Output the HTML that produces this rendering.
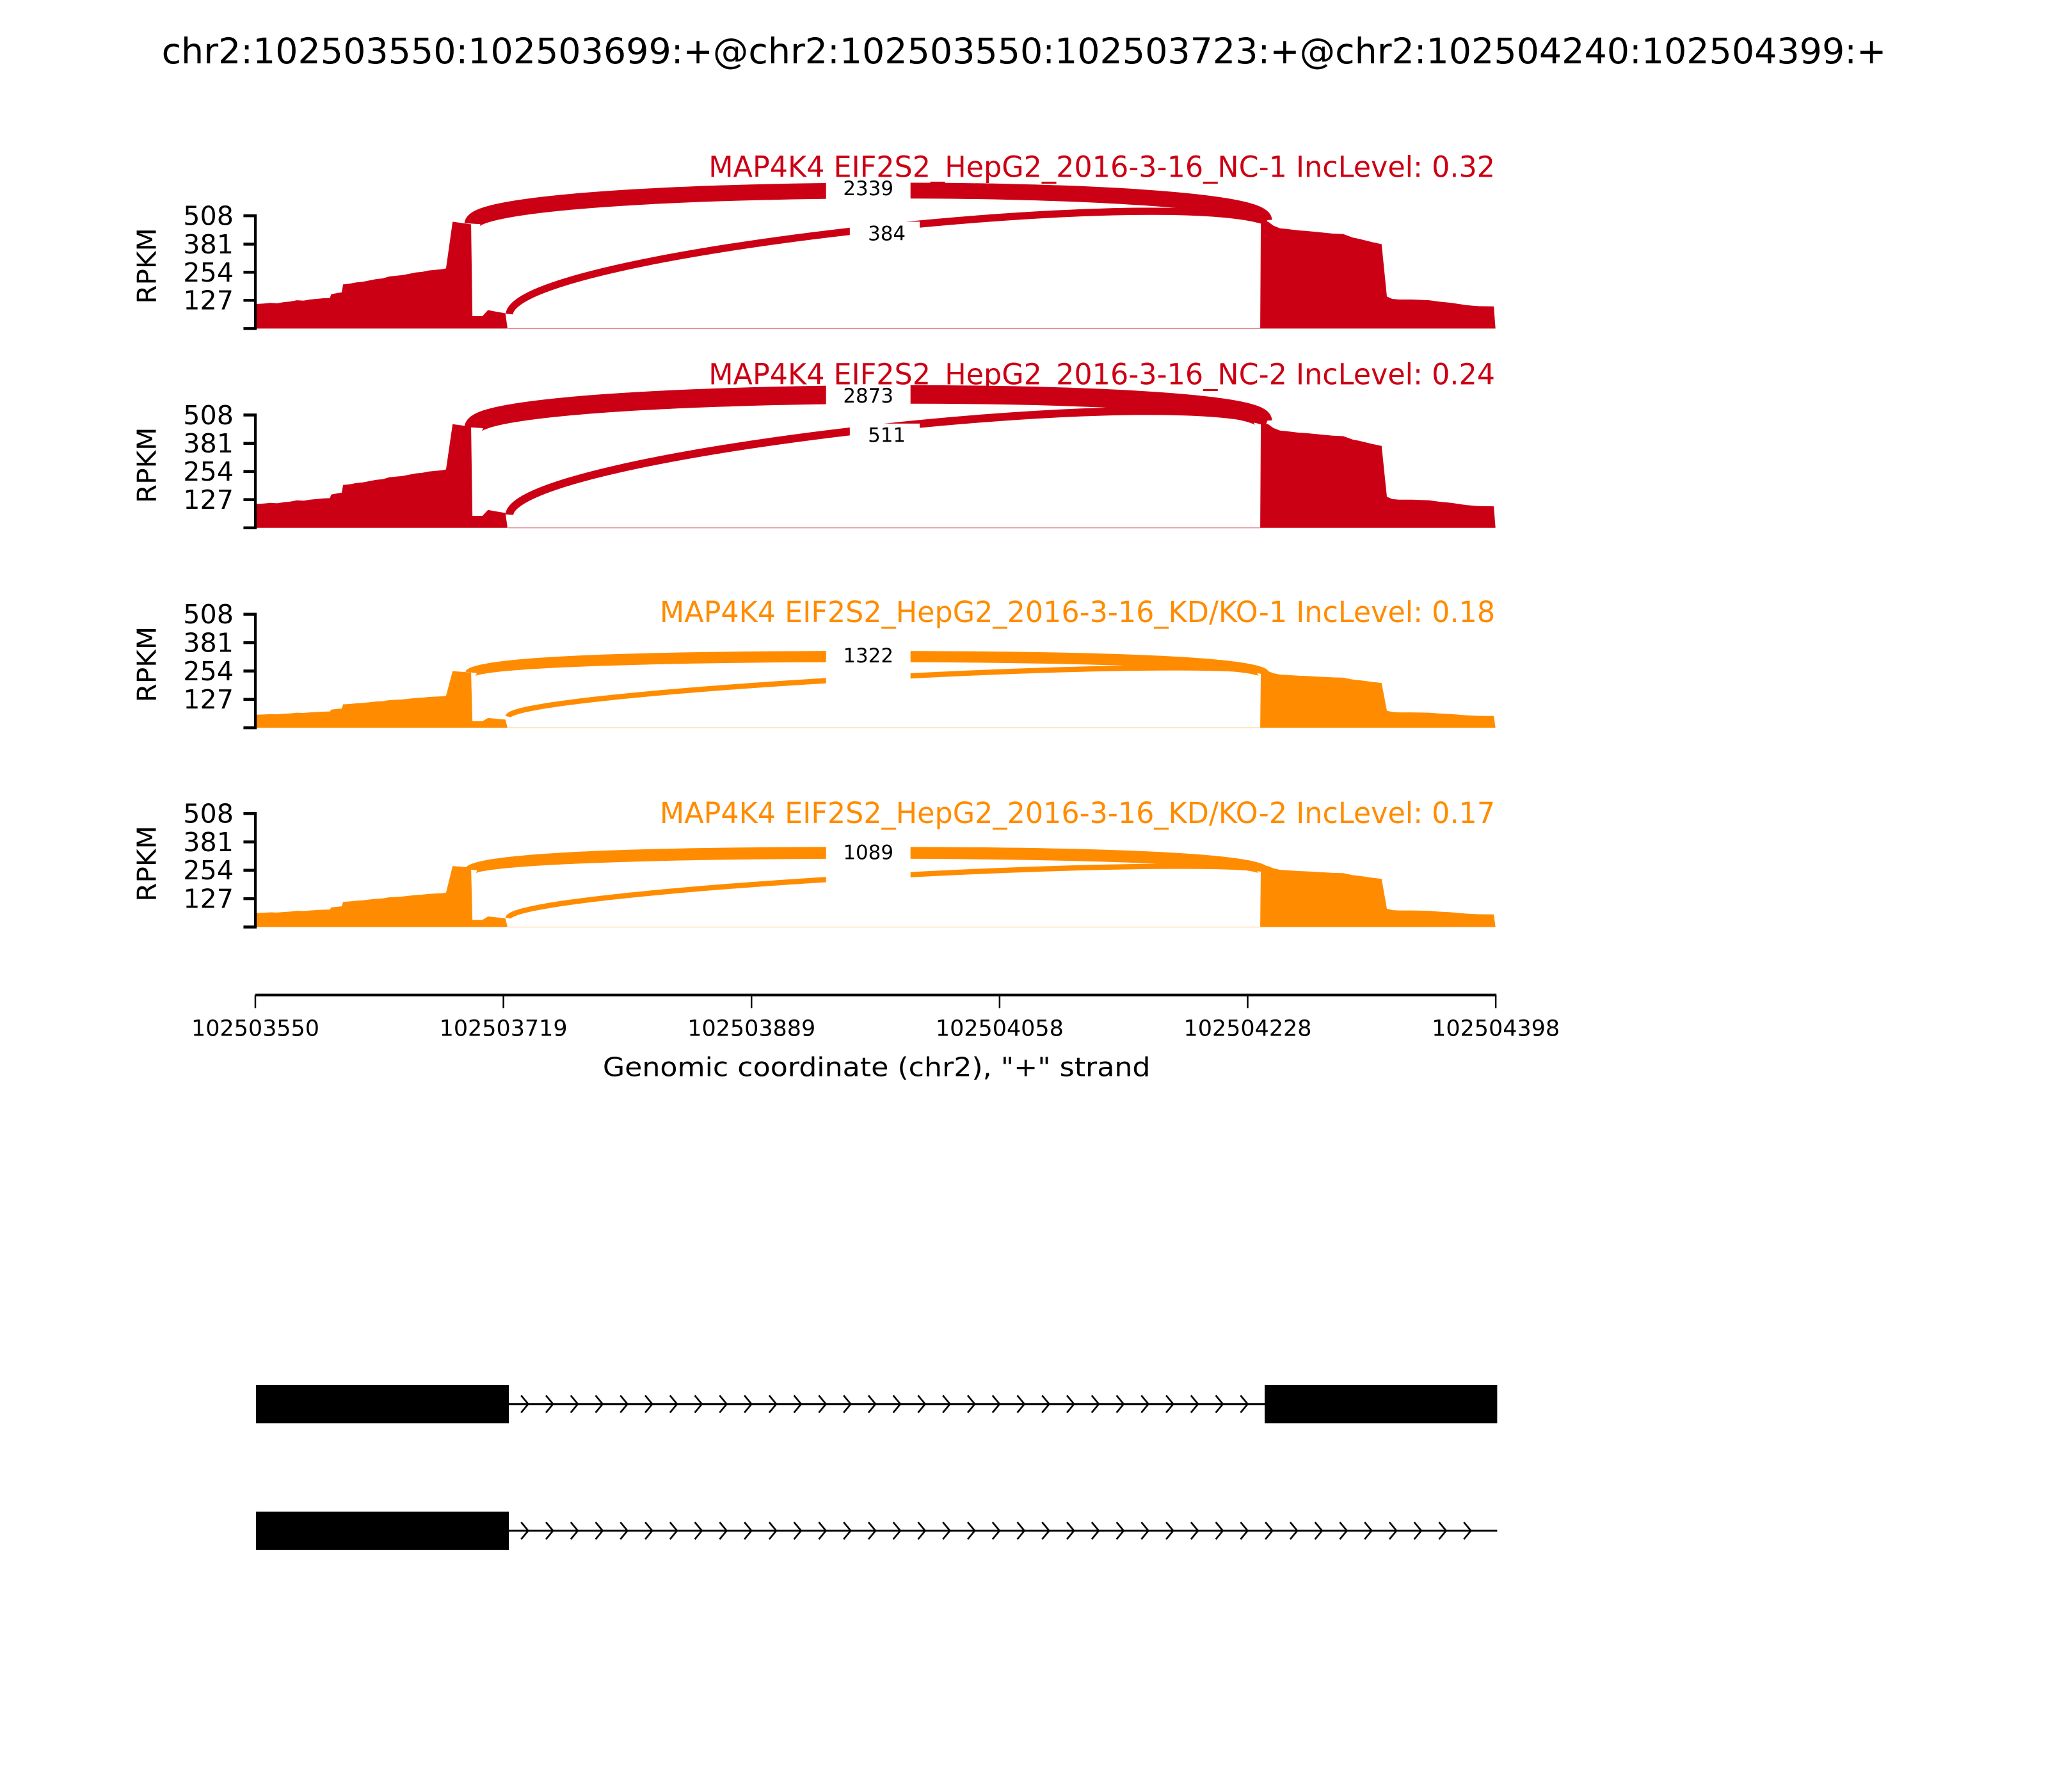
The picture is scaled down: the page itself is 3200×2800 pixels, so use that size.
<!DOCTYPE html>
<html><head><meta charset="utf-8"><style>html,body{margin:0;padding:0;background:#fff}svg{display:block}</style></head>
<body>
<svg xmlns="http://www.w3.org/2000/svg" width="3200" height="2800" viewBox="0 0 1552 1358" preserveAspectRatio="none" font-family="DejaVu Sans, Liberation Sans, sans-serif">
<defs>
<path id="cov" d="M194,0 L194,-18.6 L200,-19 L205,-19.5 L210,-19.2 L215,-20 L220,-20.5 L225,-21.5 L230,-21.2 L235,-22 L240,-22.5 L245,-23 L250,-23.2 L251,-26 L256,-27 L259,-27.5 L260,-33.5 L265,-34 L270,-35 L275,-35.5 L280,-36.5 L285,-37.5 L290,-38 L295,-39.5 L300,-40 L305,-40.5 L310,-41.5 L315,-42.5 L320,-43 L325,-44 L330,-44.5 L335,-45 L338,-45.6 L343,-81 L350,-80 L357,-79 L358,-9.4 L365.6,-9.4 L369.8,-14 L375,-13 L383,-11.6 L384.6,0 L955,0 L955.5,-82 L961,-81 L965,-78 L970,-76 L975,-75.5 L984,-74.4 L990,-74 L1000,-73 L1010,-72 L1018,-71.6 L1025,-69 L1030,-68 L1040,-65.5 L1047,-64 L1051,-24.3 L1055,-22.5 L1060,-22 L1070,-22 L1083,-21.5 L1090,-20.5 L1100,-19.5 L1111,-17.8 L1120,-17 L1132,-16.8 L1133.3,0 Z"/>
<pattern id="chev" patternUnits="userSpaceOnUse" x="386.9" y="0" width="18.8" height="1358">
<path d="M8,1057.5 L13.4,1064 L8,1070.5 M8,1153.5 L13.4,1160 L8,1166.5" fill="none" stroke="#000" stroke-width="1.3"/>
</pattern>
</defs>

<text x="776" y="48" font-size="27" text-anchor="middle" textLength="1307" lengthAdjust="spacingAndGlyphs">chr2:102503550:102503699:+@chr2:102503550:102503723:+@chr2:102504240:102504399:+</text>

<!-- Panel 1 -->
<g>
<line x1="385" y1="249" x2="955" y2="249" stroke="#cc0014" stroke-width="0.6" opacity="0.5"/>
<use href="#cov" transform="translate(0,249) scale(1,1)" fill="#cc0014"/>
<path d="M358,169.5 C360,138 956,135 958,167" fill="none" stroke="#cc0014" stroke-width="12"/>
<path d="M386,238 C390,192 880,140 960,168" fill="none" stroke="#cc0014" stroke-width="5.5"/>
<rect x="626" y="135" width="64" height="18" fill="#fff"/>
<text x="658" y="148" font-size="15" text-anchor="middle">2339</text>
<rect x="644" y="168" width="53" height="17" fill="#fff"/>
<text x="672" y="182" font-size="15" text-anchor="middle">384</text>
<text x="1133" y="134" font-size="22" fill="#cc0014" text-anchor="end" textLength="596" lengthAdjust="spacingAndGlyphs">MAP4K4 EIF2S2_HepG2_2016-3-16_NC-1 IncLevel: 0.32</text>
<path d="M193.5,163.5 V249" stroke="#000" stroke-width="2"/>
<path d="M184.5,163.5 H194.5 M184.5,185 H194.5 M184.5,206.3 H194.5 M184.5,227.6 H194.5 M184.5,249 H194.5" stroke="#000" stroke-width="2.2"/>
<g font-size="20" text-anchor="end"><text x="177" y="170.5">508</text><text x="177" y="192">381</text><text x="177" y="213.3">254</text><text x="177" y="234.6">127</text></g>
<text transform="translate(118,201.5) rotate(-90)" font-size="20" text-anchor="middle" textLength="57.5" lengthAdjust="spacingAndGlyphs">RPKM</text>
</g>

<!-- Panel 2 -->
<g>
<line x1="385" y1="400" x2="955" y2="400" stroke="#cc0014" stroke-width="0.6" opacity="0.5"/>
<use href="#cov" transform="translate(0,400) scale(1,0.97)" fill="#cc0014"/>
<path d="M359,324 C361,293 955,290 957,319" fill="none" stroke="#cc0014" stroke-width="14"/>
<path d="M386,390 C390,345 880,290 960,320" fill="none" stroke="#cc0014" stroke-width="6"/>
<rect x="626" y="291" width="64" height="19" fill="#fff"/>
<text x="658" y="305" font-size="15" text-anchor="middle">2873</text>
<rect x="644" y="321" width="53" height="17" fill="#fff"/>
<text x="672" y="335" font-size="15" text-anchor="middle">511</text>
<text x="1133" y="291.2" font-size="22" fill="#cc0014" text-anchor="end" textLength="596" lengthAdjust="spacingAndGlyphs">MAP4K4 EIF2S2_HepG2_2016-3-16_NC-2 IncLevel: 0.24</text>
<path d="M193.5,314.5 V400" stroke="#000" stroke-width="2"/>
<path d="M184.5,314.5 H194.5 M184.5,336 H194.5 M184.5,357.3 H194.5 M184.5,378.6 H194.5 M184.5,400 H194.5" stroke="#000" stroke-width="2.2"/>
<g font-size="20" text-anchor="end"><text x="177" y="321.5">508</text><text x="177" y="343">381</text><text x="177" y="364.3">254</text><text x="177" y="385.6">127</text></g>
<text transform="translate(118,352.5) rotate(-90)" font-size="20" text-anchor="middle" textLength="57.5" lengthAdjust="spacingAndGlyphs">RPKM</text>
</g>

<!-- Panel 3 -->
<g>
<line x1="385" y1="551.5" x2="955" y2="551.5" stroke="#ff8c00" stroke-width="0.6" opacity="0.4"/>
<use href="#cov" transform="translate(0,551.5) scale(1,0.53)" fill="#ff8c00"/>
<path d="M357,509.6 C359,493.5 955,493.5 957,509.6" fill="none" stroke="#ff8c00" stroke-width="8.5"/>
<path d="M385,543 C389,525 880,497 959,509" fill="none" stroke="#ff8c00" stroke-width="4"/>
<rect x="626" y="489" width="64" height="32" fill="#fff"/>
<text x="658" y="502" font-size="15" text-anchor="middle">1322</text>
<text x="1133" y="471.5" font-size="22" fill="#ff8c00" text-anchor="end" textLength="633" lengthAdjust="spacingAndGlyphs">MAP4K4 EIF2S2_HepG2_2016-3-16_KD/KO-1 IncLevel: 0.18</text>
<path d="M193.5,465.5 V551.5" stroke="#000" stroke-width="2"/>
<path d="M184.5,465.5 H194.5 M184.5,487 H194.5 M184.5,508.5 H194.5 M184.5,530 H194.5 M184.5,551.5 H194.5" stroke="#000" stroke-width="2.2"/>
<g font-size="20" text-anchor="end"><text x="177" y="472.5">508</text><text x="177" y="494">381</text><text x="177" y="515.5">254</text><text x="177" y="537">127</text></g>
<text transform="translate(118,503.5) rotate(-90)" font-size="20" text-anchor="middle" textLength="57.5" lengthAdjust="spacingAndGlyphs">RPKM</text>
</g>

<!-- Panel 4 -->
<g>
<line x1="385" y1="702.5" x2="955" y2="702.5" stroke="#ff8c00" stroke-width="0.6" opacity="0.4"/>
<use href="#cov" transform="translate(0,702.5) scale(1,0.57)" fill="#ff8c00"/>
<path d="M357,659 C359,642 955,642 957,659" fill="none" stroke="#ff8c00" stroke-width="9"/>
<path d="M385,695.7 C389,675 880,648 959,659" fill="none" stroke="#ff8c00" stroke-width="4"/>
<rect x="626" y="637" width="64" height="32" fill="#fff"/>
<text x="658" y="651" font-size="15" text-anchor="middle">1089</text>
<text x="1133" y="623.6" font-size="22" fill="#ff8c00" text-anchor="end" textLength="633" lengthAdjust="spacingAndGlyphs">MAP4K4 EIF2S2_HepG2_2016-3-16_KD/KO-2 IncLevel: 0.17</text>
<path d="M193.5,616.5 V702.5" stroke="#000" stroke-width="2"/>
<path d="M184.5,616.5 H194.5 M184.5,638 H194.5 M184.5,659.5 H194.5 M184.5,681 H194.5 M184.5,702.5 H194.5" stroke="#000" stroke-width="2.2"/>
<g font-size="20" text-anchor="end"><text x="177" y="623.5">508</text><text x="177" y="645">381</text><text x="177" y="666.5">254</text><text x="177" y="688">127</text></g>
<text transform="translate(118,654.5) rotate(-90)" font-size="20" text-anchor="middle" textLength="57.5" lengthAdjust="spacingAndGlyphs">RPKM</text>
</g>

<!-- X axis -->
<path d="M193.5,754 H1134" stroke="#000" stroke-width="2"/>
<path d="M193.5,754 V764 M381.5,754 V764 M569.5,754 V764 M757.5,754 V764 M945.5,754 V764 M1133.5,754 V764" stroke="#000" stroke-width="1.2"/>
<g font-size="17" text-anchor="middle">
<text x="193.5" y="785" textLength="97" lengthAdjust="spacingAndGlyphs">102503550</text>
<text x="381.5" y="785" textLength="97" lengthAdjust="spacingAndGlyphs">102503719</text>
<text x="569.5" y="785" textLength="97" lengthAdjust="spacingAndGlyphs">102503889</text>
<text x="757.5" y="785" textLength="97" lengthAdjust="spacingAndGlyphs">102504058</text>
<text x="945.5" y="785" textLength="97" lengthAdjust="spacingAndGlyphs">102504228</text>
<text x="1133.5" y="785" textLength="97" lengthAdjust="spacingAndGlyphs">102504398</text>
</g>
<text x="664.3" y="815.6" font-size="20" text-anchor="middle" textLength="415" lengthAdjust="spacingAndGlyphs">Genomic coordinate (chr2), "+" strand</text>

<!-- Gene models -->
<line x1="385" y1="1064" x2="958.4" y2="1064" stroke="#000" stroke-width="1.5"/>
<rect x="386.9" y="1050" width="566" height="28" fill="url(#chev)"/>
<rect x="194" y="1049.5" width="191.6" height="29.1" fill="#000"/>
<rect x="958.4" y="1049.5" width="176.2" height="29.1" fill="#000"/>
<line x1="385" y1="1160" x2="1134.6" y2="1160" stroke="#000" stroke-width="1.5"/>
<rect x="386.9" y="1146" width="735" height="28" fill="url(#chev)"/>
<rect x="194" y="1145.5" width="191.6" height="29.1" fill="#000"/>
</svg>
</body></html>
